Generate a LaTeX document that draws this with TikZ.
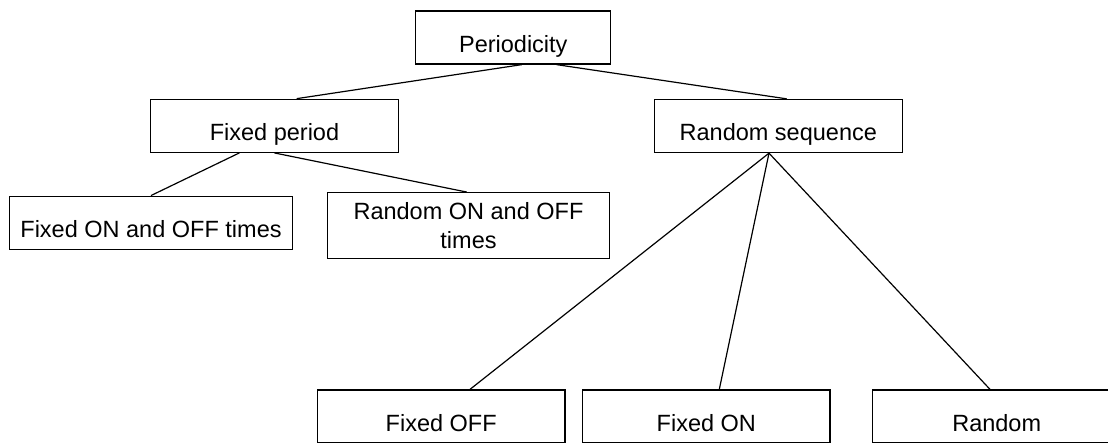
\documentclass[tikz,border=0pt]{standalone}
\usepackage{fontspec}
\setmainfont{Liberation Sans}
\begin{document}
\begin{tikzpicture}[x=1pt,y=-1pt,
  box/.style={draw=black, line width=1.3pt, rectangle, inner sep=0pt,
    minimum height=53pt, align=center,
    font=\fontsize{23.5}{29}\selectfont},
  oneline/.style={box, text height=29.5pt, text depth=0pt},
  link/.style={draw=black, line width=1.2pt}]
  \useasboundingbox (0,0) rectangle (1108,442);
  \clip (0,0) rectangle (1108,442);

  % tree of boxes
  \node[oneline, minimum width=195pt]   (per)    at (513.3,37.5)  {Periodicity};
  \node[oneline, minimum width=247.6pt] (fp)     at (274.5,125.8) {Fixed period};
  \node[oneline, minimum width=248pt]   (rs)     at (778.3,126)   {Random sequence};
  \node[oneline, minimum width=283.4pt] (fonoff) at (151,222.7)   {Fixed ON and OFF times};
  \node[box, minimum width=281.6pt, minimum height=65.6pt]
                                        (ronoff) at (468.5,225.5) {Random ON and OFF\\times};
  \node[oneline, minimum width=247.7pt] (foff)   at (441.2,416.5) {Fixed OFF};
  \node[oneline, minimum width=247.3pt] (fon)    at (706.3,416.5) {Fixed ON};
  \node[oneline, minimum width=248pt]   (rnd)    at (996.7,416.5) {Random};

  % connectors
  \draw[link] ([xshift=8.4pt]per.south)  -- ([xshift=22.2pt]fp.north);
  \draw[link] ([xshift=43.4pt]per.south) -- ([xshift=8.4pt]rs.north);
  \draw[link] ([xshift=-35.2pt]fp.south) -- (fonoff.north);
  \draw[link] (fp.south)                 -- ([xshift=-1.8pt]ronoff.north);
  \draw[link] ([xshift=-9.3pt]rs.south)  -- ([xshift=28.8pt]foff.north);
  \draw[link] ([xshift=-9.3pt]rs.south)  -- ([xshift=13pt]fon.north);
  \draw[link] ([xshift=-9.3pt]rs.south)  -- ([xshift=-6.7pt]rnd.north);
\end{tikzpicture}
\end{document}
